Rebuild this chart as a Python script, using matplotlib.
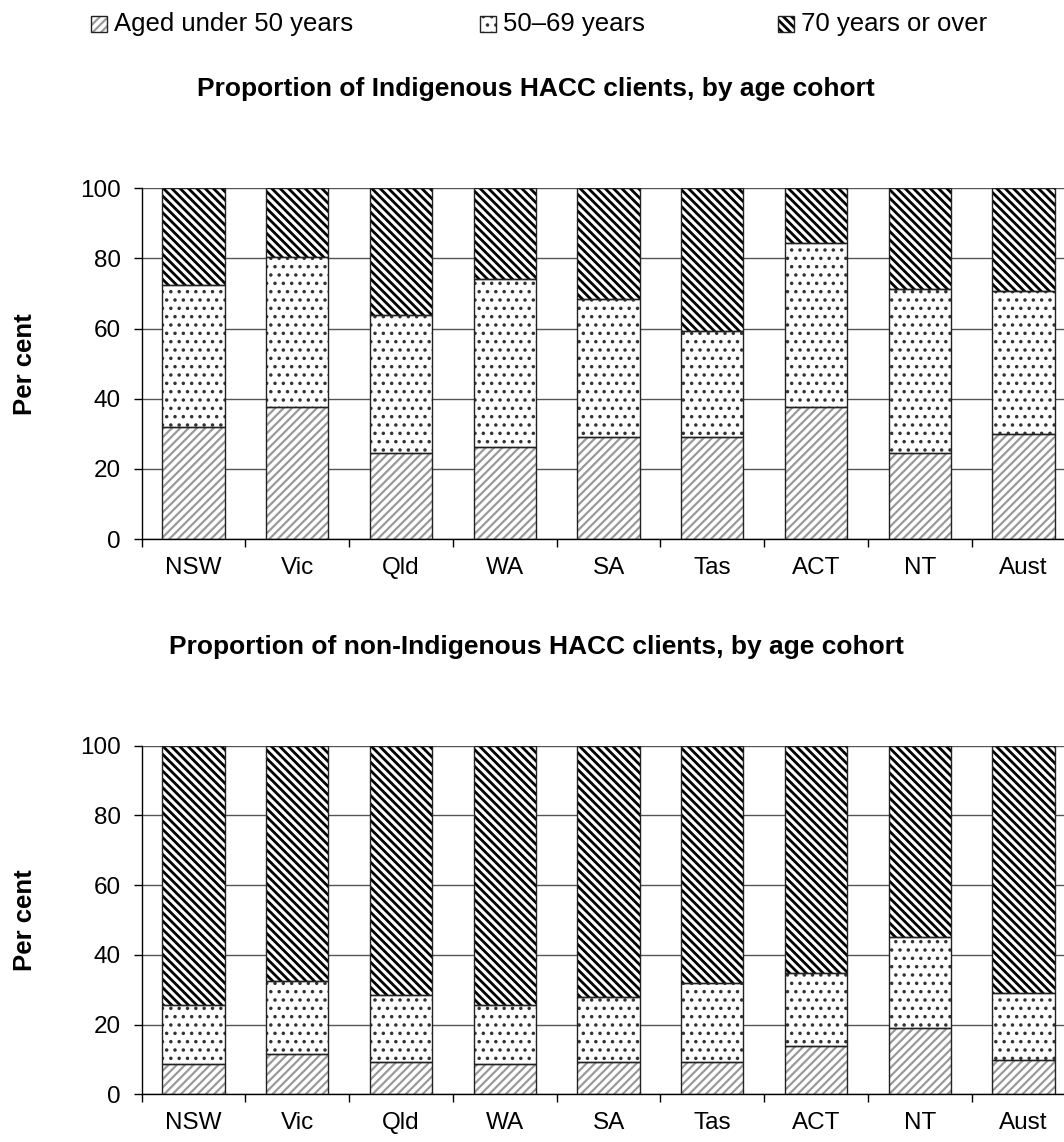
import matplotlib
matplotlib.use("Agg")
import matplotlib.pyplot as plt
from matplotlib.patches import Rectangle
import numpy as np

plt.rcParams['font.family'] = ['Liberation Sans', 'DejaVu Sans']
plt.rcParams['hatch.linewidth'] = 1.8

# ---------------- data ----------------
states = ["NSW", "Vic", "Qld", "WA", "SA", "Tas", "ACT", "NT", "Aust"]
series_names = ["Aged under 50 years", "50\u201369 years", "70 years or over"]

indig_under50 = [32.0, 37.7, 24.6, 26.3, 29.2, 29.2, 37.7, 24.6, 29.8]
indig_50_69 = [40.4, 42.6, 39.3, 47.8, 39.2, 30.1, 46.8, 46.8, 41.0]
indig_70plus = [27.6, 19.7, 36.1, 25.9, 31.6, 40.7, 15.5, 28.6, 29.2]

nonind_under50 = [8.6, 11.6, 9.2, 8.6, 9.2, 9.2, 13.9, 19.0, 9.7]
nonind_50_69 = [17.0, 21.0, 19.3, 17.0, 18.8, 22.8, 21.0, 26.2, 19.4]
nonind_70plus = [74.4, 67.4, 71.5, 74.4, 72.0, 68.0, 65.1, 54.8, 70.9]

yticks = [0, 20, 40, 60, 80, 100]
title_top = "Proportion of Indigenous HACC clients, by age cohort"
title_bottom = "Proportion of non-Indigenous HACC clients, by age cohort"
ylabel = "Per cent"

# ---------------- style ----------------
hatches = ["////", "..", "\\\\\\\\"]
hatch_colors = ["#9a9a9a", "#333333", "#000000"]
hatch_lws = [1.6, 1.3, 2.0]
outline = "#222222"

W, H = 1064, 1142
fig = plt.figure(figsize=(W / 100, H / 100), dpi=100)
LEFT_PX = 141.7
WIDTH_PX = 9 * 103.75


def make_axes(top_px, bottom_px):
    return fig.add_axes([LEFT_PX / W, 1 - bottom_px / H, WIDTH_PX / W,
                         (bottom_px - top_px) / H])


def set_hlw(artist, lw):
    if hasattr(artist, "set_hatch_linewidth"):
        try:
            artist.set_hatch_linewidth(lw)
        except Exception:
            pass


def draw_panel(ax, data):
    x = np.arange(len(states))
    bottom = np.zeros(len(states))
    for vals, h, hc, hl in zip(data, hatches, hatch_colors, hatch_lws):
        vals = np.asarray(vals)
        bars = ax.bar(x, vals, 0.6, bottom=bottom, color="white", edgecolor=hc,
                      linewidth=0, hatch=h, zorder=2)
        for b in bars:
            set_hlw(b, hl)
        ax.bar(x, vals, 0.6, bottom=bottom, fill=False, edgecolor=outline,
               linewidth=1.0, zorder=3)
        bottom = bottom + vals
    ax.set_xlim(-0.5, len(states) - 0.5)
    ax.set_ylim(0, 100)
    ax.set_yticks(yticks)
    ax.set_yticklabels([str(t) for t in yticks], fontsize=17.5)
    ax.set_xticks(np.arange(-0.5, len(states), 1.0))
    ax.set_xticklabels([])
    ax.set_xticks(x, minor=True)
    ax.set_xticklabels(states, minor=True, fontsize=17.5)
    ax.tick_params(axis="x", which="major", direction="out", length=6,
                   width=1, color="black")
    ax.tick_params(axis="x", which="minor", length=0, pad=13)
    ax.tick_params(axis="y", direction="out", length=6, width=1,
                   color="black", pad=9)
    ax.yaxis.grid(True, color="#555555", linewidth=1)
    ax.set_axisbelow(True)
    for s in ["top", "right"]:
        ax.spines[s].set_visible(False)
    for s in ["left", "bottom"]:
        ax.spines[s].set_color("black")
        ax.spines[s].set_linewidth(1)
    ax.set_ylabel(ylabel, fontsize=18.5, fontweight="bold")
    ax.yaxis.set_label_coords(-(LEFT_PX - 37) / WIDTH_PX, 0.5)


ax1 = make_axes(188.3, 539.0)
draw_panel(ax1, [indig_under50, indig_50_69, indig_70plus])
ax2 = make_axes(745.7, 1094.3)
draw_panel(ax2, [nonind_under50, nonind_50_69, nonind_70plus])

fig.text(536 / W, 1 - 89 / H, title_top, ha="center", va="center",
         fontsize=19, fontweight="bold")
fig.text(536 / W, 1 - 647 / H, title_bottom, ha="center", va="center",
         fontsize=19, fontweight="bold")

# ---------------- legend ----------------
leg_y = 24
patch_x = [91, 480, 778]
for name, px, h, hc, hl in zip(series_names, patch_x, hatches, hatch_colors,
                               hatch_lws):
    x0, y0 = px / W, 1 - (leg_y + 8) / H
    w, hh = 16 / W, 16 / H
    r = Rectangle((x0, y0), w, hh, transform=fig.transFigure,
                  facecolor="white", edgecolor=hc, linewidth=0, hatch=h)
    set_hlw(r, hl)
    fig.add_artist(r)
    fig.add_artist(Rectangle((x0, y0), w, hh, transform=fig.transFigure,
                             fill=False, edgecolor=outline, linewidth=1))
    fig.text((px + 23) / W, 1 - leg_y / H, name, ha="left", va="center",
             fontsize=18.5)

fig.savefig("out.png", dpi=100)
